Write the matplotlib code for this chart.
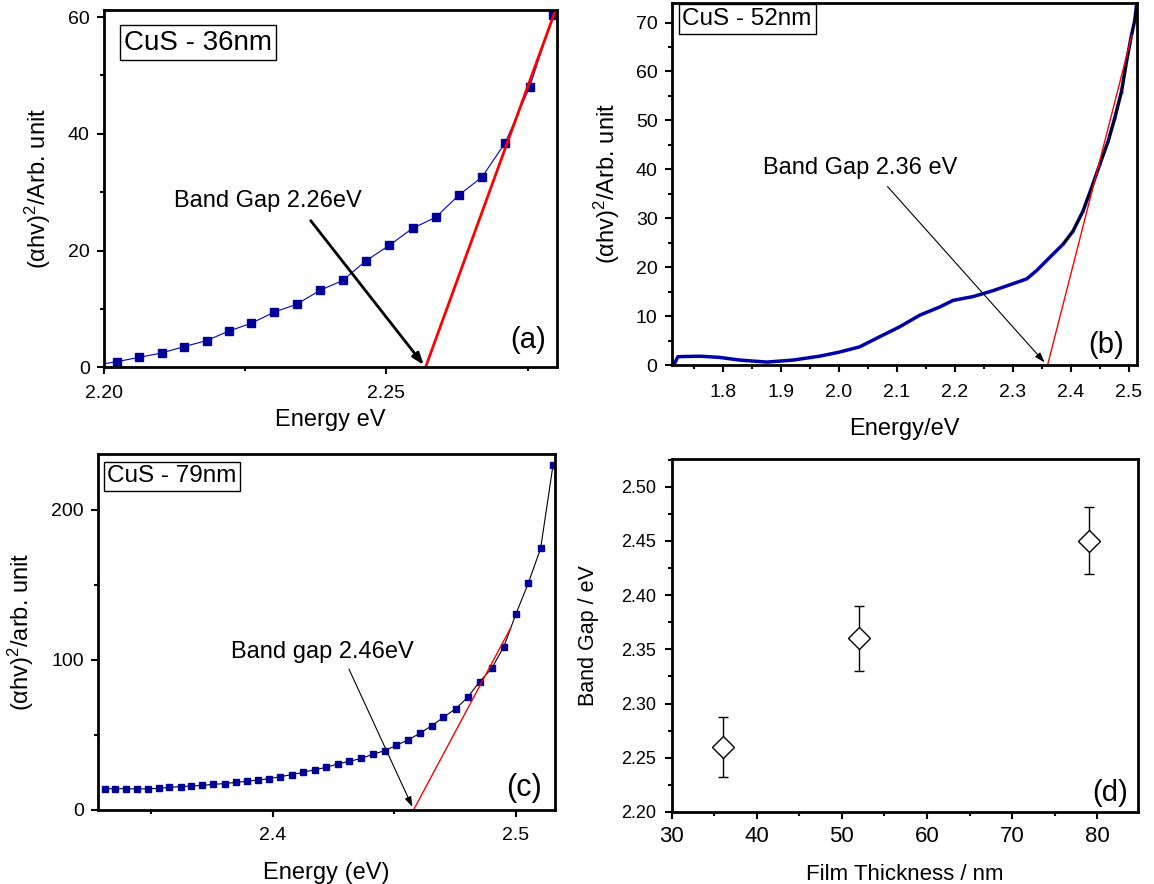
import matplotlib
matplotlib.use("Agg")
import matplotlib.pyplot as plt
from matplotlib.ticker import MultipleLocator, FormatStrFormatter

plt.rcParams["font.family"] = ["Liberation Sans", "DejaVu Sans"]
plt.rcParams["mathtext.fontset"] = "custom"
plt.rcParams["mathtext.rm"] = "Liberation Sans"
plt.rcParams["mathtext.it"] = "Liberation Sans:italic"

# (a) CuS - 36nm
a_energy = [2.1984, 2.2024, 2.2063, 2.2103, 2.2142, 2.2182, 2.2222, 2.2261, 2.2301, 2.2341,
            2.2383, 2.2423, 2.2463, 2.2505, 2.2546, 2.2587, 2.2628, 2.2669, 2.2710, 2.2753, 2.2795]
a_value = [0.35, 0.97, 1.71, 2.46, 3.54, 4.57, 6.23, 7.54, 9.43, 10.8,
           13.2, 14.9, 18.2, 20.9, 23.8, 25.7, 29.5, 32.6, 38.5, 48.0, 60.4]
a_fit_x = [2.2569, 2.2797]
a_fit_y = [0, 60.7]

# (b) CuS - 52nm
b_energy = [1.714, 1.716, 1.723, 1.761, 1.795, 1.830, 1.876, 1.921, 1.967, 2.000, 2.036,
            2.071, 2.105, 2.140, 2.174, 2.197, 2.232, 2.266, 2.300, 2.324, 2.341, 2.3637,
            2.3867, 2.4039, 2.4211, 2.4356, 2.4499, 2.4642, 2.4757, 2.4873, 2.4959, 2.5045,
            2.5102, 2.513]
b_value = [0.0, 0.0, 1.7, 1.8, 1.55, 1.0, 0.6, 1.0, 1.8, 2.6, 3.7,
           5.8, 7.8, 10.2, 11.85, 13.2, 14.0, 15.2, 16.6, 17.6, 19.3, 22.0,
           24.7, 27.4, 31.5, 36.2, 41.0, 45.7, 50.5, 55.9, 62.0, 67.4,
           70.5, 73.5]
b_fit_x = [2.360, 2.5051]
b_fit_y = [0, 67.4]

# (c) CuS - 79nm
c_energy = [2.3310, 2.3354, 2.3399, 2.3444, 2.3488, 2.3532, 2.3576, 2.3622, 2.3666, 2.3712,
            2.3757, 2.3803, 2.3848, 2.3894, 2.3941, 2.3987, 2.4032, 2.4079, 2.4126, 2.4174,
            2.4221, 2.4268, 2.4315, 2.4364, 2.4412, 2.4461, 2.4508, 2.4556, 2.4605, 2.4654,
            2.4702, 2.4753, 2.4801, 2.4851, 2.4900, 2.4950, 2.5000, 2.5050, 2.5101, 2.5152]
c_value = [14.2, 14.2, 14.2, 14.0, 14.2, 14.4, 15.1, 15.6, 16.0, 16.4,
           17.1, 17.6, 18.4, 19.1, 20.0, 20.9, 22.2, 23.6, 25.1, 26.9,
           28.4, 30.7, 32.4, 34.4, 37.1, 39.6, 43.1, 46.7, 51.1, 56.2,
           61.8, 67.6, 75.1, 85.6, 94.4, 108.9, 130.9, 151.1, 174.4, 230.0]
c_fit_x = [2.4579, 2.4977]
c_fit_y = [0, 121.1]

# (d) band gap vs thickness
thickness = [36, 52, 79]
band_gap = [2.26, 2.36, 2.45]
gap_err = [0.028, 0.03, 0.031]

W, H = 1154, 884
fig = plt.figure(figsize=(W / 100, H / 100), dpi=100)


def add_ax(left, right, top, bottom):
    ax = fig.add_axes([left / W, 1 - bottom / H, (right - left) / W, (bottom - top) / H])
    for s in ax.spines.values():
        s.set_linewidth(2.0)
    ax.tick_params(which="both", direction="out", width=1.5, top=False, right=False)
    ax.tick_params(which="major", length=5, labelsize=14, pad=5)
    ax.tick_params(which="minor", length=3)
    return ax


def cus_box(ax, x, y, text, size=17.5):
    ax.text(x, y, text, transform=ax.transAxes, fontsize=size, va="center", ha="left",
            bbox=dict(boxstyle="square,pad=0.15", fc="white", ec="black", lw=1))


def letter(ax, x, y, text, size=21):
    ax.text(x, y, text, transform=ax.transAxes, fontsize=size, va="center", ha="right")


# ---- (a)
ax = add_ax(103.6, 556.8, 10, 367.3)
ax.plot(a_energy, a_value, "-", color="#0000cc", lw=0.8, marker="s", ms=5.5,
        mfc="#000099", mec="#000099")
ax.plot(a_fit_x, a_fit_y, color="red", lw=2)
ax.annotate("", xy=(2.2569, 0), xytext=(2.2363, 25.5),
            arrowprops=dict(arrowstyle="-|>,head_length=0.7,head_width=0.25", color="black", lw=2))
ax.text(2.2124, 28.4, "Band Gap 2.26eV", fontsize=17, va="center")
ax.set_xlim(2.20, 2.2801)
ax.set_ylim(0, 61.2)
ax.xaxis.set_major_locator(MultipleLocator(0.05))
ax.xaxis.set_minor_locator(MultipleLocator(0.025))
ax.xaxis.set_major_formatter(FormatStrFormatter("%.2f"))
ax.yaxis.set_major_locator(MultipleLocator(20))
ax.yaxis.set_minor_locator(MultipleLocator(10))
ax.tick_params(axis="x", pad=8)
ax.set_xlabel("Energy eV", fontsize=17, labelpad=5)
ax.set_ylabel(r"(αhv)$^2$/Arb. unit", fontsize=17, labelpad=11)
cus_box(ax, 0.045, 0.909, "CuS - 36nm", size=20)
letter(ax, 0.976, 0.076, "(a)")

# ---- (b)
ax = add_ax(671.5, 1137, 3, 365)
ax.plot(b_energy, b_value, color="#0000aa", lw=2.5)
upper = [i for i, e in enumerate(b_energy) if e >= 2.37]
ax.plot([b_energy[i] for i in upper], [b_value[i] for i in upper], color="black", lw=1.5)
ax.plot([b_energy[i] for i in upper], [b_value[i] for i in upper], "s", ms=2,
        color="#0000cc", mec="none")
ax.plot(b_fit_x, b_fit_y, color="red", lw=1)
ax.annotate("", xy=(2.358, 0.1), xytext=(2.081, 36.9),
            arrowprops=dict(arrowstyle="-|>,head_length=0.6,head_width=0.2", color="black", lw=0.8))
ax.text(1.870, 40.3, "Band Gap 2.36 eV", fontsize=17, va="center")
ax.set_xlim(1.712, 2.514)
ax.set_ylim(0, 74)
ax.xaxis.set_major_locator(MultipleLocator(0.1))
ax.xaxis.set_minor_locator(MultipleLocator(0.05))
ax.xaxis.set_major_formatter(FormatStrFormatter("%.1f"))
ax.yaxis.set_major_locator(MultipleLocator(10))
ax.yaxis.set_minor_locator(MultipleLocator(5))
ax.tick_params(axis="x", pad=9)
ax.set_xlabel("Energy/eV", fontsize=17, labelpad=12)
ax.set_ylabel(r"(αhv)$^2$/Arb. unit", fontsize=17, labelpad=10)
cus_box(ax, 0.0236, 0.956, "CuS - 52nm")
letter(ax, 0.971, 0.055, "(b)")

# ---- (c)
ax = add_ax(98, 555, 454, 810)
ax.plot(c_energy, c_value, "-", color="black", lw=0.8, marker="s", ms=3.8,
        mfc="#000099", mec="#000099")
ax.plot(c_fit_x, c_fit_y, color="red", lw=1)
ax.annotate("", xy=(2.4579, 0.4), xytext=(2.4309, 95.6),
            arrowprops=dict(arrowstyle="-|>,head_length=0.6,head_width=0.2", color="black", lw=0.8))
ax.text(2.3830, 105.6, "Band gap 2.46eV", fontsize=17, va="center")
ax.set_xlim(2.3283, 2.516)
ax.set_ylim(0, 237.3)
ax.xaxis.set_major_locator(MultipleLocator(0.1))
ax.xaxis.set_minor_locator(MultipleLocator(0.05))
ax.xaxis.set_major_formatter(FormatStrFormatter("%.1f"))
ax.yaxis.set_major_locator(MultipleLocator(100))
ax.yaxis.set_minor_locator(MultipleLocator(50))
ax.tick_params(axis="x", pad=7)
ax.set_xlabel("Energy (eV)", fontsize=17, labelpad=13)
ax.set_ylabel(r"(αhv)$^2$/arb. unit", fontsize=17, labelpad=11)
cus_box(ax, 0.0204, 0.937, "CuS - 79nm")
letter(ax, 0.972, 0.062, "(c)", size=22)

# ---- (d)
ax = add_ax(671.7, 1138.4, 459, 812)
ax.errorbar(thickness, band_gap, yerr=gap_err, fmt="D", ms=11, mfc="white", mec="black",
            mew=1, ecolor="black", elinewidth=1, capsize=3.5, capthick=1)
ax.set_xlim(30, 84.85)
ax.set_ylim(2.20, 2.5255)
ax.xaxis.set_major_locator(MultipleLocator(10))
ax.xaxis.set_minor_locator(MultipleLocator(5))
ax.yaxis.set_major_locator(MultipleLocator(0.05))
ax.yaxis.set_minor_locator(MultipleLocator(0.025))
ax.yaxis.set_major_formatter(FormatStrFormatter("%.2f"))
ax.tick_params(axis="x", labelsize=16)
ax.tick_params(axis="y", labelsize=13, pad=6)
ax.set_xlabel("Film Thickness / nm", fontsize=16, labelpad=12)
ax.set_ylabel("Band Gap / eV", fontsize=15.5, labelpad=16)
letter(ax, 0.978, 0.054, "(d)")

fig.savefig("out.png", dpi=100)
